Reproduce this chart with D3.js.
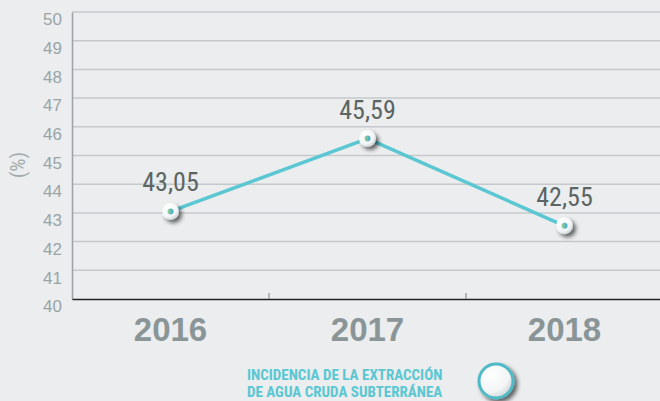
<!DOCTYPE html>
<html>
<head>
<meta charset="utf-8">
<script src="https://cdn.jsdelivr.net/npm/d3@7"></script>
<style>
  html, body { margin: 0; padding: 0; background: #ebedee; }
  svg { display: block; font-family: "Liberation Sans Narrow", "Roboto Condensed", Roboto, sans-serif; }
</style>
</head>
<body>
<div id="chart"></div>
<script>
const years = ['2016', '2017', '2018'];
const values = [43.05, 45.59, 42.55];
const valueLabels = ['43,05', '45,59', '42,55'];
const yTicks = [40, 41, 42, 43, 44, 45, 46, 47, 48, 49, 50];
const legendLines = ['INCIDENCIA DE LA EXTRACCIÓN', 'DE AGUA CRUDA SUBTERRÁNEA'];

const svgWidth = 660;
const svgHeight = 401;
const margin = { top: 12, right: -3, bottom: 102, left: 72 };
const width = svgWidth - margin.left - margin.right;
const height = svgHeight - margin.top - margin.bottom;

const teal = '#5ac7d2';

const svg = d3.select('#chart').append('svg')
    .attr('width', svgWidth)
    .attr('height', svgHeight);

const defs = svg.append('defs');

const shadow = defs.append('filter').attr('id', 'shadow')
    .attr('x', '-60%').attr('y', '-60%').attr('width', '220%').attr('height', '220%');
shadow.append('feDropShadow')
    .attr('dx', 3).attr('dy', 3).attr('stdDeviation', 2)
    .attr('flood-color', '#000').attr('flood-opacity', 0.6);

const ballGrad = defs.append('radialGradient').attr('id', 'ball')
    .attr('cx', '35%').attr('cy', '30%').attr('r', '75%');
ballGrad.append('stop').attr('offset', '0%').attr('stop-color', '#ffffff');
ballGrad.append('stop').attr('offset', '70%').attr('stop-color', '#f2f4f5');
ballGrad.append('stop').attr('offset', '100%').attr('stop-color', '#c9d0d3');

const dotGrad = defs.append('linearGradient').attr('id', 'dot')
    .attr('x1', '0%').attr('x2', '100%');
dotGrad.append('stop').attr('offset', '0%').attr('stop-color', '#9fd08a');
dotGrad.append('stop').attr('offset', '100%').attr('stop-color', '#3aa8d8');

const g = svg.append('g')
    .attr('transform', `translate(${margin.left},${margin.top})`);

const x = d3.scaleBand().domain(years).range([0, width]);
const y = d3.scaleLinear().domain([40, 50]).range([height, 0]);

// grid lines
g.selectAll('.grid')
    .data(yTicks.filter(t => t > 40))
    .enter().append('line')
    .attr('x1', 0).attr('x2', width + margin.right + 3)
    .attr('y1', d => y(d)).attr('y2', d => y(d))
    .attr('stroke', '#c6c9cb').attr('stroke-width', 1.5);

// y axis
const yAxis = g.append('g')
    .call(d3.axisLeft(y).tickValues(yTicks).tickSize(0).tickPadding(10));
yAxis.select('.domain').attr('stroke', '#9aa3a5').attr('stroke-width', 1.5);
yAxis.selectAll('text')
    .attr('fill', '#9aa4a6')
    .attr('dy', '0.75em')
    .style('font-size', '17px');

// x axis
const xAxis = g.append('g')
    .attr('transform', `translate(0,${height})`)
    .call(d3.axisBottom(x).tickSize(0).tickPadding(19));
xAxis.select('.domain').attr('stroke', '#222').attr('stroke-width', 1.5);
xAxis.selectAll('text')
    .attr('fill', '#8a9597')
    .style('font-size', '33px')
    .style('font-weight', 'bold');

// small ticks between categories
g.selectAll('.sep')
    .data(years.slice(1))
    .enter().append('line')
    .attr('x1', d => x(d)).attr('x2', d => x(d))
    .attr('y1', height - 6).attr('y2', height)
    .attr('stroke', '#9aa3a5').attr('stroke-width', 1.5);

// y label
svg.append('text')
    .attr('transform', 'translate(25,165) rotate(-90)')
    .attr('text-anchor', 'middle')
    .attr('fill', '#a3abad')
    .style('font-size', '21px')
    .text('(%)');

// line
const line = d3.line()
    .x((d, i) => x(years[i]) + x.bandwidth() / 2)
    .y(d => y(d));

g.append('path')
    .datum(values)
    .attr('d', line)
    .attr('fill', 'none')
    .attr('stroke', teal)
    .attr('stroke-width', 3.5);

// markers
const pts = g.selectAll('.pt')
    .data(values)
    .enter().append('g')
    .attr('transform', (d, i) => `translate(${x(years[i]) + x.bandwidth() / 2},${y(d)})`);
pts.append('circle').attr('r', 8.5).attr('fill', 'url(#ball)').attr('filter', 'url(#shadow)');
pts.append('circle').attr('r', 3).attr('fill', 'url(#dot)');

// value labels
g.selectAll('.val')
    .data(values)
    .enter().append('text')
    .attr('x', (d, i) => x(years[i]) + x.bandwidth() / 2)
    .attr('y', d => y(d) - 20)
    .attr('text-anchor', 'middle')
    .attr('fill', '#5b6564')
    .style('font-size', '26px')
    .text((d, i) => valueLabels[i]);

// legend
svg.selectAll('.leg')
    .data(legendLines)
    .enter().append('text')
    .attr('x', 247)
    .attr('y', (d, i) => 380 + i * 17)
    .attr('fill', teal)
    .style('font-size', '15px')
    .style('font-weight', 'bold')
    .text(d => d);

svg.append('circle')
    .attr('cx', 496).attr('cy', 381).attr('r', 17)
    .attr('fill', 'url(#ball)')
    .attr('stroke', '#4fb9c5').attr('stroke-width', 3)
    .attr('filter', 'url(#shadow)');
</script>
</body>
</html>
